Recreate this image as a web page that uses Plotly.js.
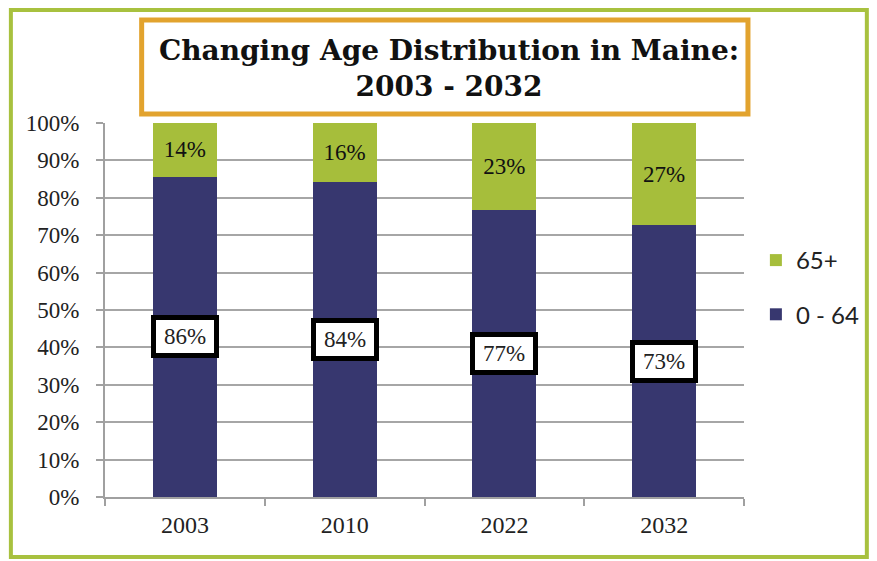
<!DOCTYPE html>
<html>
<head>
<meta charset="utf-8">
<script src="https://cdn.plot.ly/plotly-3.0.1.min.js"></script>
<style>html,body{margin:0;padding:0;background:#fff;}#chart{width:877px;height:561px;}</style>
</head>
<body>
<div id="chart"></div>
<script>
const years = ['2003', '2010', '2022', '2032'];
const young = [85.6, 84.1, 76.8, 72.7];   // 0 - 64 share (%)
const old = [14.4, 15.9, 23.2, 27.3];     // 65+ share (%)
const youngLabels = ['86%', '84%', '77%', '73%'];
const oldLabels = ['14%', '16%', '23%', '27%'];
const yTicks = [0, 10, 20, 30, 40, 50, 60, 70, 80, 90, 100];
const yTickText = ['0%', '10%', '20%', '30%', '40%', '50%', '60%', '70%', '80%', '90%', '100%'];

const serif = 'Liberation Serif';

const traces = [
  {
    type: 'bar', name: '0 - 64', x: years, y: young,
    marker: {color: '#37376F'}, legendgroup: 'a', legendrank: 2,
    hoverinfo: 'skip'
  },
  {
    type: 'bar', name: '65+', x: years, y: old,
    marker: {color: '#A6BE3B'}, legendgroup: 'b', legendrank: 1,
    text: oldLabels, textposition: 'inside', insidetextanchor: 'middle',
    textfont: {family: serif, size: 23, color: '#111'},
    hoverinfo: 'skip'
  }
];

const annotations = years.map((yr, i) => ({
  x: i, y: young[i] / 2, xref: 'x', yref: 'y',
  text: youngLabels[i], showarrow: false,
  font: {family: serif, size: 23, color: '#222'},
  bgcolor: '#fff', bordercolor: '#000', borderwidth: 5, borderpad: 2,
  width: 54, height: 29
}));

// pixel helpers for frame shapes (plot area 105..750 x, 123..497 y)
const px = v => (v - 105) / 645;
const py = v => (497 - v) / 374;

const shapes = [
  {type: 'rect', xref: 'paper', yref: 'paper', x0: px(10), x1: px(874), y0: py(557), y1: py(10),
   line: {color: '#A8C13F', width: 4}, fillcolor: 'rgba(0,0,0,0)', layer: 'below'},
  {type: 'rect', xref: 'paper', yref: 'paper', x0: px(142), x1: px(754), y0: py(114), y1: py(20),
   line: {color: '#E2A32E', width: 5}, fillcolor: 'rgba(0,0,0,0)'}
];

const layout = {
  width: 877, height: 561,
  margin: {l: 105, r: 127, t: 123, b: 64},
  paper_bgcolor: '#fff', plot_bgcolor: '#fff',
  barmode: 'stack', bargap: 0.6,
  showlegend: true,
  title: {
    text: '<b>Changing Age Distribution in Maine:<br>2003 - 2032</b>',
    font: {family: 'DejaVu Serif', size: 28, color: '#111'},
    x: 449 / 877, xanchor: 'center', xref: 'container',
    y: 1 - 60 / 561, yanchor: 'middle', yref: 'container'
  },
  xaxis: {
    type: 'category', range: [-0.5, 3.5], autorange: false,
    showline: true, linecolor: '#A0A0A0', linewidth: 2,
    ticks: 'outside', tickson: 'boundaries', ticklen: 7, tickcolor: '#A0A0A0', tickwidth: 2,
    ticklabelstandoff: 5,
    tickfont: {family: serif, size: 24, color: '#222'},
    showgrid: false, fixedrange: true
  },
  yaxis: {
    range: [0, 100], autorange: false, tickvals: yTicks, ticktext: yTickText,
    showline: true, linecolor: '#A0A0A0', linewidth: 2,
    ticks: 'outside', ticklen: 7, tickcolor: '#A0A0A0', tickwidth: 2,
    ticklabelstandoff: 12,
    showgrid: true, gridcolor: '#A6A6A6', gridwidth: 2,
    tickfont: {family: serif, size: 23, color: '#222'},
    zeroline: false, fixedrange: true
  },
  legend: {
    x: px(762), y: py(238), xanchor: 'left', yanchor: 'top',
    tracegroupgap: 20,
    font: {family: 'Lato', size: 24, color: '#222'},
    bgcolor: 'rgba(0,0,0,0)'
  },
  annotations: annotations,
  shapes: shapes
};

Plotly.newPlot('chart', traces, layout, {displayModeBar: false, staticPlot: true});
</script>
</body>
</html>
